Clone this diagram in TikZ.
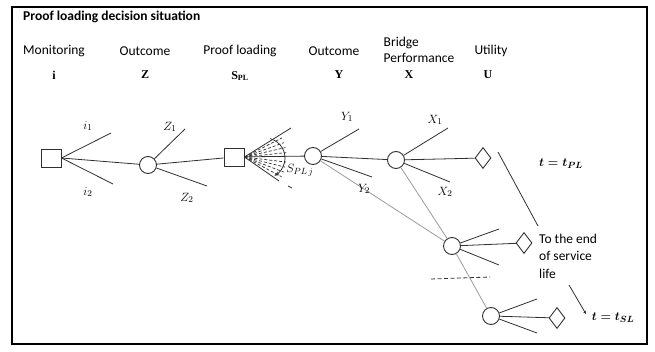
\documentclass[tikz,border=0pt]{standalone}
\usepackage{fontspec}
\setmainfont{Carlito}
\newfontfamily\serifb{Liberation Serif}
\usetikzlibrary{shapes.geometric,arrows.meta}
\definecolor{lnk}{HTML}{303030}
\definecolor{gln}{HTML}{9A9A9A}
\begin{document}
\begin{tikzpicture}[x=1pt,y=-1pt,
  sq/.style={draw=lnk,line width=0.9pt,minimum width=20pt,minimum height=18pt,inner sep=0pt},
  ch/.style={circle,draw=lnk,line width=0.9pt,minimum size=17pt,inner sep=0pt},
  ut/.style={diamond,draw=lnk,line width=0.9pt,minimum width=16pt,minimum height=21pt,inner sep=0pt},
  br/.style={draw=lnk,line width=0.8pt},
  gr/.style={draw=gln,line width=0.8pt},
  hdr/.style={font=\fontsize{13.5}{16.5}\selectfont,inner sep=0pt},
  sym/.style={font=\serifb\bfseries\fontsize{12}{13}\selectfont,inner sep=0pt},
  lab/.style={font=\fontsize{12.5}{14}\selectfont,inner sep=0pt},
  tlab/.style={font=\boldmath\fontsize{12.5}{14}\selectfont,inner sep=0pt}]
\useasboundingbox (0,0) rectangle (655,352);
\draw[line width=1.3pt] (12,7) rectangle (647,344);
% title and headers
\node[hdr,font=\bfseries\fontsize{13.5}{16.5}\selectfont,anchor=west] (title) at (23,17) {Proof loading decision situation};
\node[hdr] (hm) at (54,51) {Monitoring};
\node[hdr] (ho) at (145,51) {Outcome};
\node[hdr] (hp) at (240,51) {Proof loading};
\node[hdr] (hy) at (334,51) {Outcome};
\node[hdr,align=left] (hx) at (419,50) {Bridge\\Performance};
\node[hdr] (hu) at (491,51) {Utility};
\node[sym] (si) at (54,75) {i};
\node[sym] (sz) at (145,75) {Z};
\node[sym] (ss) at (240,76) {S\textsubscript{PL}};
\node[sym] (sy) at (339,75) {Y};
\node[sym] (sx) at (409,75) {X};
\node[sym] (su) at (488,75) {U};
% nodes
\node[sq] (d1) at (51,158) {};
\node[ch] (c1) at (148,165) {};
\node[sq] (d2) at (234,157) {};
\node[ch] (c2) at (313,156) {};
\node[ch] (c3) at (396,160) {};
\node[ut] (u1) at (483,158) {};
\node[ch] (c4) at (452,246) {};
\node[ut] (u2) at (524,243) {};
\node[ch] (c5) at (491,316) {};
\node[ut] (u3) at (557,318) {};
% free ends
\coordinate (i1e) at (111,133); \coordinate (i2e) at (113,184);
\coordinate (z1e) at (185,129); \coordinate (z2e) at (207,186);
\coordinate (y1e) at (359,129); \coordinate (y2e) at (372,177);
\coordinate (x1e) at (448,128); \coordinate (x2e) at (450,182);
\coordinate (a1e) at (499,229); \coordinate (a2e) at (499,265);
\coordinate (b1e) at (537,299); \coordinate (b2e) at (537,333);
% gray paths
\draw[gr] (c2) -- (c4);
\draw[gr] (c3) -- (c4);
\draw[gr] (c4) -- (c5);
% branches
\draw[br] (d1.east) -- (i1e);
\draw[br] (d1.east) -- (i2e);
\draw[br] (d1.east) -- (c1);
\draw[br] (c1) -- (z1e);
\draw[br] (c1) -- (z2e);
\draw[br] (c1) -- (d2);
\draw[br] (d2) -- (c2);
\draw[br] (c2) -- (y1e);
\draw[br] (c2) -- (y2e);
\draw[br] (c2) -- (c3);
\draw[br] (c3) -- (x1e);
\draw[br] (c3) -- (x2e);
\draw[br] (c3) -- (u1);
\draw[br] (c4) -- (a1e);
\draw[br] (c4) -- (a2e);
\draw[br] (c4) -- (u2);
\draw[br] (c5) -- (b1e);
\draw[br] (c5) -- (b2e);
\draw[br] (c5) -- (u3);
% fan of proof loads
\coordinate (fu) at (291,128); \coordinate (fl) at (279,181);
\draw[br] (d2.east) -- (fu);
\draw[br] (d2.east) -- (fl);
\foreach \a in {-27,-20,-13,-6,7,14,21,28}
  \draw[lnk,line width=0.7pt,dash pattern=on 3pt off 2pt] (d2.east) -- ++(\a:42);
\draw[lnk,line width=0.8pt,-{Stealth[length=5pt,width=4pt]}] (265,158) ++(-75:20) arc[start angle=-75,end angle=62,radius=20];
\coordinate (sd1) at (288,186); \coordinate (sd2) at (292,188);
\draw[lnk,line width=0.7pt] (sd1) -- (sd2);
% labels
\node[lab] (li1) at (88,126) {$i_1$};
\node[lab] (li2) at (88,192) {$i_2$};
\node[lab] (lz1) at (170,127) {$Z_1$};
\node[lab] (lz2) at (187,198) {$Z_2$};
\node[lab] (ls) at (300,170) {$S_{PL\,j}$};
\node[lab] (ly1) at (347,117) {$Y_1$};
\node[lab] (ly2) at (364,189) {$Y_2$};
\node[lab] (lx1) at (435,120) {$X_1$};
\node[lab] (lx2) at (445,192) {$X_2$};
% dashed separator
\coordinate (ds1) at (431,279); \coordinate (ds2) at (490,277);
\draw[lnk,line width=0.8pt,dash pattern=on 4pt off 2.5pt] (ds1) -- (ds2);
% right side
\node[tlab] (tpl) at (561,164) {$t=t_{PL}$};
\node[hdr,align=left,anchor=west,font=\fontsize{13.5}{17.5}\selectfont] (eol) at (539,256) {To the end\\of service\\life};
\node[tlab] (tsl) at (613,318) {$t=t_{SL}$};
\coordinate (l1a) at (498,152); \coordinate (l1b) at (538,226);
\draw[br] (l1a) -- (l1b);
\coordinate (l2a) at (569,285); \coordinate (l2b) at (586,314);
\draw[br,-{Stealth[length=3pt,width=3pt]}] (l2a) -- (l2b);
\end{tikzpicture}
\end{document}
